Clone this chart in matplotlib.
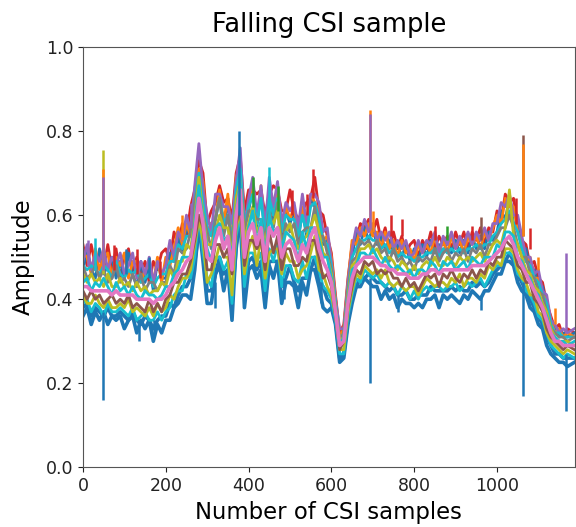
import numpy as np
import matplotlib
matplotlib.use("Agg")
import matplotlib.pyplot as plt

# Sample index of every stored point (one point every 10 CSI samples)
sample_idx = np.append(np.arange(0, 1180, 10), 1187)

# Amplitude of each subcarrier trace, stored in hundredths
pink = [43,43,42,42,42,42,42,41,42,41,41,41,41,40,40,40,40,39,40,40,
        41,43,44,46,47,49,50,56,64,58,50,49,54,57,52,55,47,60,66,50,
        56,58,53,57,49,57,55,57,50,53,54,52,49,53,51,55,57,52,49,47,
        44,37,29,30,39,45,48,49,50,50,50,49,48,48,47,47,46,46,46,45,
        45,45,46,46,47,47,46,47,47,47,47,47,47,47,48,48,48,48,49,50,
        51,52,54,55,53,50,48,46,44,42,40,38,35,32,30,30,29,29,29]

red = [53,48,53,48,51,47,53,47,52,45,50,52,46,50,46,49,44,49,47,51,
       52,49,56,53,58,55,62,66,73,70,58,61,63,67,63,64,59,70,74,61,
       66,66,65,66,60,65,67,66,61,61,66,61,59,61,63,64,69,61,60,55,
       51,41,32,34,45,53,54,58,57,59,56,59,54,57,52,56,52,55,51,53,
       54,50,54,52,56,52,55,53,55,52,56,53,56,52,56,54,57,53,57,56,
       61,59,65,63,64,58,54,53,48,49,45,44,39,36,33,34,31,33,32]

purple = [49,53,47,51,49,52,47,50,48,51,46,48,51,45,49,46,50,44,49,46,
          48,54,50,56,54,60,56,67,77,66,60,56,65,65,62,62,58,68,76,57,
          64,69,60,67,57,69,62,68,58,63,61,63,57,65,58,65,65,63,56,57,
          49,40,33,33,44,52,57,55,59,56,58,54,56,54,56,52,54,52,54,50,
          51,54,51,54,53,56,51,55,53,56,52,55,53,56,53,56,54,57,54,58,
          58,63,62,65,60,60,55,50,50,46,47,42,41,35,34,32,33,32,33]

orange = [51,50,46,52,47,50,51,45,50,48,51,45,49,49,44,47,48,44,50,44,
          50,48,52,57,53,58,55,64,71,68,56,58,59,66,58,65,52,69,72,59,
          62,67,58,67,55,66,60,67,57,62,59,62,55,62,56,65,63,61,54,55,
          50,40,31,33,44,54,53,57,55,58,55,56,52,56,52,54,50,54,51,52,
          49,53,51,53,51,55,51,54,51,55,52,54,51,55,53,55,52,56,54,57,
          60,58,64,62,62,56,53,49,50,45,45,41,40,35,32,33,31,32,31]

blue_top = [47,52,47,45,52,46,48,50,45,49,45,51,46,43,49,44,48,42,49,45,
            45,51,49,55,51,57,55,65,70,66,54,58,59,65,56,64,52,68,71,57,
            61,66,57,66,54,65,59,66,55,61,58,61,54,61,55,64,62,60,53,54,
            48,39,31,32,43,50,56,53,57,54,57,53,55,52,54,51,53,50,53,49,
            52,49,53,50,54,51,53,51,54,51,54,51,54,51,55,52,55,52,56,54,
            56,61,59,64,58,58,52,52,47,47,43,43,38,34,33,31,32,31,32]

cyan_top = [48,47,48,47,46,48,47,45,49,46,45,47,46,47,44,45,46,43,45,46,
            46,49,49,53,52,55,55,63,70,63,57,55,59,64,58,60,54,66,71,57,
            62,65,58,64,55,64,60,64,56,60,59,59,55,60,56,62,63,59,54,53,
            48,39,30,32,42,50,52,54,54,55,54,54,52,53,51,52,50,51,50,50,
            49,50,50,51,51,52,50,52,51,52,51,52,51,52,52,53,52,53,53,55,
            56,58,59,61,58,56,52,49,48,45,44,41,39,34,32,32,31,31,31]

grey_hi = [48,45,46,48,45,47,44,45,48,44,45,43,46,43,46,42,44,44,42,44,
           44,48,46,52,51,52,56,63,68,60,56,52,59,64,55,60,53,64,68,56,
           61,61,59,59,54,61,57,63,53,58,56,58,53,56,57,57,62,55,55,51,
           47,38,30,32,42,49,50,54,53,54,52,54,51,52,49,52,49,50,48,49,
           47,50,49,50,49,52,49,51,52,49,51,50,52,49,52,51,53,50,53,53,
           55,57,57,60,57,53,50,50,46,45,42,41,37,33,32,31,31,30,31]

olive_hi = [46,44,46,44,45,43,46,43,43,45,43,44,42,44,42,43,41,42,42,44,
            43,47,45,49,49,53,52,59,69,60,53,53,56,60,57,57,50,64,68,54,
            58,62,56,58,53,59,58,61,51,56,58,54,52,54,55,57,60,56,51,50,
            46,38,30,31,41,48,49,52,52,53,51,52,50,49,50,49,47,49,48,46,
            48,46,48,49,48,50,48,48,50,49,48,50,49,50,49,50,51,49,51,53,
            54,53,57,66,55,53,50,47,46,43,42,39,37,33,31,30,30,30,29]

cyan_hi = [44,45,42,44,43,45,43,41,44,42,43,41,43,41,40,42,41,41,40,41,
           43,43,46,47,50,50,50,58,67,59,52,49,57,58,54,55,50,61,68,50,
           57,61,53,59,50,60,56,57,52,56,55,54,49,56,52,57,57,54,50,50,
           45,37,29,31,40,47,48,51,51,50,52,50,48,50,48,47,48,47,46,47,
           45,47,47,46,49,48,46,49,48,49,47,48,49,47,50,49,48,50,50,50,
           53,52,56,56,55,50,49,46,45,42,41,38,36,32,31,30,30,29,30]

brown_lo = [42,40,42,40,41,39,40,41,39,40,39,41,38,39,38,37,40,37,39,37,
            40,41,44,44,46,46,49,54,60,57,47,47,53,53,50,52,46,58,62,48,
            54,54,52,54,47,56,51,55,47,52,52,48,48,50,49,54,54,50,45,46,
            43,36,28,30,38,43,47,46,49,48,49,46,47,46,47,45,45,43,45,43,
            44,42,44,46,45,46,43,46,45,47,45,44,46,45,47,45,47,46,49,48,
            50,50,54,53,52,48,47,44,44,40,39,37,33,31,30,29,28,29,28]

olive_lo = [41,39,39,41,39,38,40,38,38,39,38,40,37,38,37,36,38,36,39,37,
            38,41,40,43,45,45,47,53,59,54,44,46,49,53,50,50,41,57,61,46,
            52,55,48,55,45,51,52,52,46,51,49,49,45,47,48,51,55,47,46,43,
            41,36,28,28,37,42,46,45,48,47,46,47,45,47,44,43,44,43,42,43,
            43,41,43,45,44,43,44,44,43,45,44,46,43,45,45,44,46,45,48,47,
            49,48,52,52,51,47,45,44,41,41,37,36,32,30,29,28,27,28,27]

cyan_lo = [39,40,37,39,38,36,39,37,37,38,37,36,38,35,36,37,35,35,37,35,
           37,38,41,42,42,46,45,50,60,51,45,43,50,50,47,49,39,55,60,43,
           51,51,49,51,42,52,49,53,43,48,48,45,44,49,45,50,50,47,43,42,
           40,35,27,27,36,41,45,44,47,46,45,46,44,43,44,43,41,43,42,40,
           42,40,42,43,42,43,43,42,43,43,44,42,43,44,43,44,45,43,45,47,
           48,48,51,51,50,46,45,42,41,39,36,35,32,29,28,27,26,27,26]

blue_mid = [38,39,36,38,37,36,38,36,36,37,36,35,37,35,34,36,35,33,35,36,
            36,39,38,41,43,43,45,49,56,52,42,42,46,50,46,47,40,52,60,42,
            49,50,47,49,42,49,49,49,43,45,48,44,42,45,45,47,50,44,43,40,
            39,35,26,27,35,41,43,45,45,46,45,44,44,43,42,43,41,41,42,40,
            40,41,41,41,43,42,42,42,42,43,42,43,42,42,44,43,44,43,44,46,
            47,48,49,51,49,46,44,42,40,38,36,34,31,29,27,27,26,26,26]

blue = [36,38,34,37,35,37,34,36,35,36,33,35,36,32,35,33,35,30,34,32,
        35,35,38,39,41,41,40,47,58,49,39,39,46,48,42,47,35,53,59,38,
        47,48,45,47,38,48,45,49,39,44,44,43,38,44,41,47,47,43,38,37,
        38,34,25,26,34,39,43,43,45,44,43,43,40,42,40,41,38,40,39,39,
        38,39,38,40,40,41,38,41,40,41,40,39,41,40,42,41,40,42,42,44,
        46,46,49,49,48,44,42,41,38,37,34,33,29,27,26,25,25,24,25]

C_BLUE, C_ORANGE, C_GREEN, C_RED = "#1f77b4", "#ff7f0e", "#2ca02c", "#d62728"
C_PURPLE, C_BROWN, C_PINK, C_GREY = "#9467bd", "#8c564b", "#e377c2", "#7f7f7f"
C_OLIVE, C_CYAN = "#bcbd22", "#17becf"

# Single-sample glitches: sample index, trace colour, level before the jump, peak level
spike_sample = [48, 48, 48, 48, 377, 450, 555, 693, 693, 693, 961, 961, 1063, 1063, 1063, 1166, 1166,
                12, 30, 75, 105, 130, 160, 185, 240, 262, 410, 470, 505, 540, 700, 745, 770,
                850, 880, 940, 1045, 1080, 1100, 1140,
                135, 172, 318, 486, 575, 760]
spike_color = [C_OLIVE, C_ORANGE, C_PURPLE, C_BLUE, C_BLUE, C_CYAN, C_RED,
               C_ORANGE, C_PURPLE, C_BLUE, C_BROWN, C_BLUE, C_BROWN, C_ORANGE, C_BLUE, C_PURPLE, C_BLUE,
               C_PURPLE, C_CYAN, C_RED, C_BLUE, C_RED, C_BLUE, C_RED, C_ORANGE, C_PURPLE, C_GREEN,
               C_GREEN, C_RED, C_RED, C_ORANGE, C_RED, C_RED, C_RED, C_GREEN, C_RED, C_RED, C_RED,
               C_ORANGE, C_ORANGE,
               C_BLUE, C_BLUE, C_BLUE, C_BLUE, C_BLUE, C_BLUE]
spike_base = [0.46, 0.47, 0.47, 0.37, 0.60, 0.60, 0.64, 0.57, 0.57, 0.45, 0.54, 0.41,
              0.55, 0.55, 0.44, 0.32, 0.27,
              0.48, 0.47, 0.47, 0.46, 0.46, 0.45, 0.45, 0.54, 0.57, 0.62, 0.61, 0.60, 0.60,
              0.56, 0.55, 0.55, 0.54, 0.54, 0.54, 0.58, 0.52, 0.47, 0.34,
              0.35, 0.35, 0.44, 0.45, 0.44, 0.41]
spike_peak = [0.755, 0.71, 0.69, 0.16, 0.80, 0.715, 0.71, 0.85, 0.84, 0.20, 0.595, 0.375,
              0.79, 0.77, 0.17, 0.51, 0.135,
              0.54, 0.545, 0.53, 0.52, 0.52, 0.50, 0.49, 0.60, 0.63, 0.69, 0.67, 0.66, 0.65,
              0.61, 0.60, 0.59, 0.575, 0.575, 0.575, 0.64, 0.57, 0.50, 0.38,
              0.30, 0.31, 0.38, 0.40, 0.39, 0.37]

# Drawing order: bottom layers first, the pink centre trace last
traces = [
    (blue, C_BLUE, 2.6),
    (blue_mid, C_BLUE, 2.6),
    (cyan_lo, C_CYAN, 2.0),
    (olive_lo, C_OLIVE, 2.0),
    (brown_lo, C_BROWN, 2.0),
    (red, C_RED, 2.0),
    (blue_top, C_BLUE, 2.0),
    (orange, C_ORANGE, 2.0),
    (purple, C_PURPLE, 2.0),
    (cyan_top, C_CYAN, 2.0),
    (grey_hi, C_GREY, 2.0),
    (olive_hi, C_OLIVE, 2.0),
    (cyan_hi, C_CYAN, 2.0),
    (pink, C_PINK, 2.6),
]

fig = plt.figure(figsize=(5.76, 5.27), dpi=100)
ax = fig.add_axes([0.144, 0.113, 0.854, 0.798])

for values, color, lw in traces:
    ax.plot(sample_idx, np.array(values) / 100.0, color=color, linewidth=lw)

for s, c, b, p in zip(spike_sample, spike_color, spike_base, spike_peak):
    ax.plot([s, s], [b, p], color=c, linewidth=1.8, solid_capstyle="butt")

ax.set_xlim(0, 1188)
ax.set_ylim(0, 1.0)
ax.set_xticks([0, 200, 400, 600, 800, 1000])
ax.set_yticks([0.0, 0.2, 0.4, 0.6, 0.8, 1.0])
ax.tick_params(labelsize=12.5, colors="#222222")
for spine in ax.spines.values():
    spine.set_color("#555555")

ax.set_title("Falling CSI sample", fontsize=18.5, pad=11)
ax.set_xlabel("Number of CSI samples", fontsize=16.4)
ax.set_ylabel("Amplitude", fontsize=16.4, labelpad=8)

fig.savefig("out.png", dpi=100)
